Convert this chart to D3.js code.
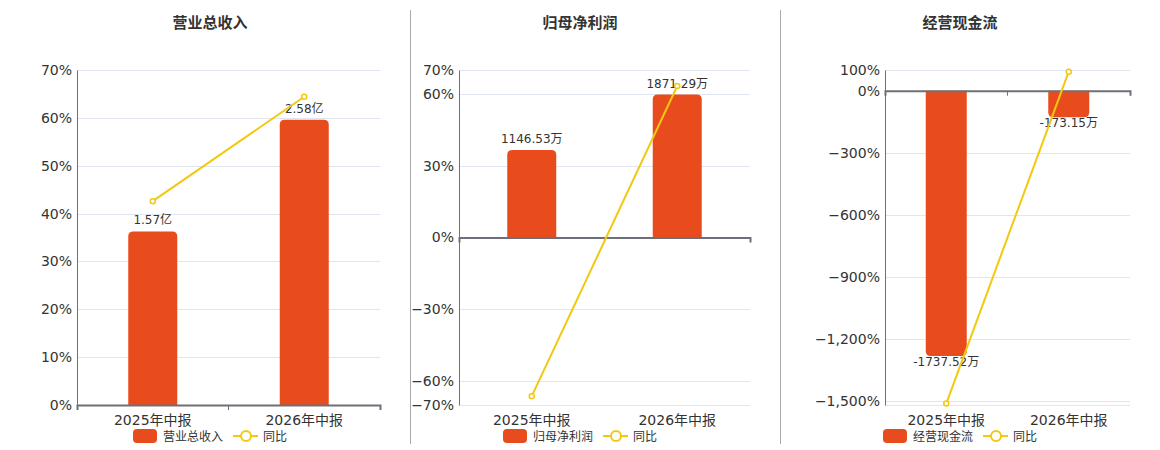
<!DOCTYPE html>
<html>
<head>
<meta charset="utf-8">
<script src="https://cdn.jsdelivr.net/npm/d3@7/dist/d3.min.js"></script>
<style>
  html, body { margin: 0; padding: 0; background: #fff; }
  svg { display: block; font-family: "DejaVu Sans", "Noto Sans CJK SC", sans-serif; }
</style>
</head>
<body>
<svg id="chart" width="1160" height="450"></svg>
<script>
// Three small financial panels: bars for amount, line for YoY %.
const categories = ["2025年中报", "2026年中报"];
const titles = ["营业总收入", "归母净利润", "经营现金流"];
const barNames = ["营业总收入", "归母净利润", "经营现金流"];
const barValues = [[1.57, 2.58], [1146.53, 1871.29], [-1737.52, -173.15]];
const barLabels = [["1.57亿", "2.58亿"], ["1146.53万", "1871.29万"], ["-1737.52万", "-173.15万"]];
const yoyValues = [[42.6, 64.4], [-66.3, 63.3], [-1510, 92]];
const pctTicks = [
  [0, 10, 20, 30, 40, 50, 60, 70],
  [-70, -60, -30, 0, 30, 60, 70],
  [-1500, -1200, -900, -600, -300, 0, 100]
];
const pctDomains = [[0, 70], [-70, 70], [-1517, 100]];
const barDomains = [[0, 3.03], [-2192, 2192], [-2058, 136]];

const BAR = "#e84c1d", LINE = "#f2c811", AXIS = "#6e7079", GRID = "#e0e6f1", TXT = "#333";

const panels = [
  { left: 77, right: 380, title: 210, legend: 133, barW: 49 },
  { left: 459, right: 750, title: 580, legend: 503, barW: 49 },
  { left: 885, right: 1130, title: 960, legend: 883, barW: 41 }
];
const plotTop = 70, plotBottom = 405;

const svg = d3.select("#chart");
const fmt = d3.format(",");

// dividers between panels
[410, 780].forEach(x => {
  svg.append("line").attr("x1", x + 0.5).attr("x2", x + 0.5).attr("y1", 10).attr("y2", 444)
    .attr("stroke", "#aaa").attr("stroke-width", 1);
});

function barPath(x, w, y0, y1, r) {
  // rounded corners on the far end of the bar
  const h = Math.abs(y1 - y0);
  r = Math.min(r, h / 2, w / 2);
  if (y1 <= y0) {
    return `M${x},${y0}V${y1 + r}Q${x},${y1} ${x + r},${y1}H${x + w - r}Q${x + w},${y1} ${x + w},${y1 + r}V${y0}Z`;
  }
  return `M${x},${y0}V${y1 - r}Q${x},${y1} ${x + r},${y1}H${x + w - r}Q${x + w},${y1} ${x + w},${y1 - r}V${y0}Z`;
}

panels.forEach((p, i) => {
  const g = svg.append("g");
  const x = d3.scaleBand().domain(categories).range([p.left, p.right]);
  const yP = d3.scaleLinear().domain(pctDomains[i]).range([plotBottom, plotTop]);
  const yB = d3.scaleLinear().domain(barDomains[i]).range([plotBottom, plotTop]);
  const zeroY = yP(0);

  // title
  g.append("text").attr("x", p.title).attr("y", 28).attr("text-anchor", "middle")
    .attr("font-size", 15).attr("font-weight", "bold").attr("fill", TXT).text(titles[i]);

  // grid
  g.selectAll(".grid").data(pctTicks[i].filter(t => t !== 0).concat([pctDomains[i][0]]))
    .join("line")
    .attr("x1", p.left).attr("x2", p.right)
    .attr("y1", d => Math.round(yP(d)) + 0.5).attr("y2", d => Math.round(yP(d)) + 0.5)
    .attr("stroke", GRID).attr("stroke-width", 1);

  // left axis
  const ya = d3.axisLeft(yP).tickValues(pctTicks[i]).tickSize(0).tickPadding(5)
    .tickFormat(d => fmt(d) + "%");
  const yg = g.append("g").attr("transform", `translate(${p.left},0)`).call(ya);
  yg.select(".domain").attr("stroke", AXIS);
  yg.selectAll("text").attr("font-size", 14).attr("fill", TXT).attr("font-family", "DejaVu Sans");

  // bars
  g.selectAll(".bar").data(barValues[i]).join("path")
    .attr("fill", BAR)
    .attr("d", (d, j) => {
      const cx = x(categories[j]) + x.bandwidth() / 2;
      return barPath(cx - p.barW / 2, p.barW, yB(0), yB(d), 5);
    });

  // bar labels
  g.selectAll(".blab").data(barValues[i]).join("text")
    .attr("x", (d, j) => x(categories[j]) + x.bandwidth() / 2)
    .attr("y", d => d >= 0 ? yB(d) - 7 : yB(d) + 10)
    .attr("text-anchor", "middle").attr("font-size", 12).attr("fill", TXT)
    .text((d, j) => barLabels[i][j]);

  // x axis on zero line
  const xa = d3.axisBottom(x).tickSize(5).tickFormat("").tickSizeOuter(5);
  const xg = g.append("g").attr("transform", `translate(0,${zeroY})`).call(xa);
  xg.select(".domain").attr("stroke", AXIS).attr("stroke-width", 2);
  xg.selectAll(".tick line").attr("stroke", AXIS)
    .attr("transform", `translate(${x.bandwidth() / 2},0)`);
  xg.selectAll(".tick").filter((d, j) => j === categories.length - 1).remove();

  // x labels at bottom
  g.selectAll(".xlab").data(categories).join("text")
    .attr("x", d => x(d) + x.bandwidth() / 2).attr("y", 425)
    .attr("text-anchor", "middle").attr("font-size", 14).attr("fill", TXT).text(d => d);

  // yoy line
  const pts = yoyValues[i].map((v, j) => [x(categories[j]) + x.bandwidth() / 2, yP(v)]);
  g.append("path").attr("d", d3.line()(pts)).attr("fill", "none")
    .attr("stroke", LINE).attr("stroke-width", 2);
  g.selectAll(".pt").data(pts).join("circle")
    .attr("cx", d => d[0]).attr("cy", d => d[1]).attr("r", 2.5)
    .attr("fill", "#fff").attr("stroke", LINE).attr("stroke-width", 1.5);

  // legend
  const lg = g.append("g").attr("transform", `translate(${p.legend},436)`);
  lg.append("rect").attr("x", 0).attr("y", -7).attr("width", 24).attr("height", 14)
    .attr("rx", 4).attr("fill", BAR);
  lg.append("text").attr("x", 30).attr("y", 5).attr("font-size", 12).attr("fill", TXT)
    .text(barNames[i]);
  lg.append("line").attr("x1", 100).attr("x2", 125).attr("y1", 0).attr("y2", 0)
    .attr("stroke", LINE).attr("stroke-width", 2);
  lg.append("circle").attr("cx", 113).attr("cy", 0).attr("r", 5)
    .attr("fill", "#fff").attr("stroke", LINE).attr("stroke-width", 2);
  lg.append("text").attr("x", 130).attr("y", 5).attr("font-size", 12).attr("fill", TXT)
    .text("同比");
});
</script>
</body>
</html>
